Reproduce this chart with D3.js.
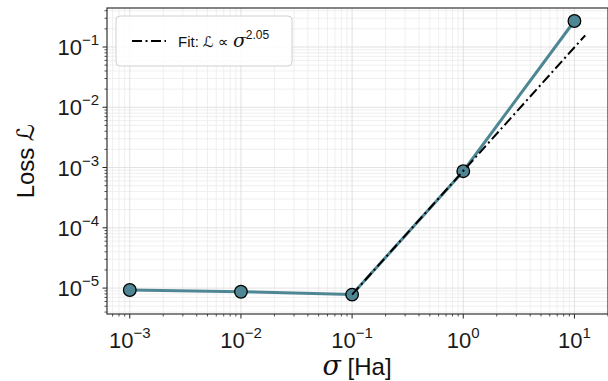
<!DOCTYPE html>
<html>
<head>
<meta charset="utf-8">
<script src="https://cdn.jsdelivr.net/npm/d3@7"></script>
<style>
  html, body { margin: 0; padding: 0; background: #fff; }
  svg { display: block; font-family: "Liberation Sans", "DejaVu Sans", sans-serif; }
</style>
</head>
<body>
<svg id="chart" width="608" height="381"></svg>
<script>
// data
const sigma = [0.001, 0.01, 0.1, 1, 10];
const loss = [9.3e-6, 8.7e-6, 7.8e-6, 8.7e-4, 0.27];

// fitted power law, drawn between its two end points
const fitSigma = [0.1, 12.5];
const fitLoss = [7.8e-6, 0.156];
const fitLabel = '2.05';

const xTickExp = [-3, -2, -1, 0, 1];
const yTickExp = [-5, -4, -3, -2, -1];

const svg = d3.select('#chart');
const margin = { top: 8, right: 0, bottom: 67, left: 107 };
const width = +svg.attr('width') - margin.left - margin.right;
const height = +svg.attr('height') - margin.top - margin.bottom;

const g = svg.append('g').attr('transform', `translate(${margin.left},${margin.top})`);

const x = d3.scaleLog()
  .domain([Math.pow(10, -3.205), Math.pow(10, 1.302)])
  .range([0, width]);

const y = d3.scaleLog()
  .domain([Math.pow(10, -5.43), Math.pow(10, -0.353)])
  .range([height, 0]);

// minor / major tick values
const minorX = [];
for (let e = -4; e <= 1; e++) for (let k = 2; k <= 9; k++) {
  const v = k * Math.pow(10, e);
  if (v >= x.domain()[0] && v <= x.domain()[1]) minorX.push(v);
}
const minorY = [];
for (let e = -6; e <= -1; e++) for (let k = 2; k <= 9; k++) {
  const v = k * Math.pow(10, e);
  if (v >= y.domain()[0] && v <= y.domain()[1]) minorY.push(v);
}
const majorX = xTickExp.map(e => Math.pow(10, e));
const majorY = yTickExp.map(e => Math.pow(10, e));

// grid
const grid = g.append('g');
grid.selectAll('.gxm').data(minorX).enter().append('line')
  .attr('x1', d => x(d)).attr('x2', d => x(d)).attr('y1', 0).attr('y2', height)
  .attr('stroke', '#ebebeb').attr('stroke-width', 0.8);
grid.selectAll('.gym').data(minorY).enter().append('line')
  .attr('y1', d => y(d)).attr('y2', d => y(d)).attr('x1', 0).attr('x2', width)
  .attr('stroke', '#ebebeb').attr('stroke-width', 0.8);
grid.selectAll('.gx').data(majorX).enter().append('line')
  .attr('x1', d => x(d)).attr('x2', d => x(d)).attr('y1', 0).attr('y2', height)
  .attr('stroke', '#dadada').attr('stroke-width', 0.8);
grid.selectAll('.gy').data(majorY).enter().append('line')
  .attr('y1', d => y(d)).attr('y2', d => y(d)).attr('x1', 0).attr('x2', width)
  .attr('stroke', '#dadada').attr('stroke-width', 0.8);

// data line + markers
const line = d3.line().x((d, i) => x(sigma[i])).y(d => y(d));
g.append('path')
  .datum(loss)
  .attr('d', line)
  .attr('fill', 'none')
  .attr('stroke', '#4f8694')
  .attr('stroke-width', 3);

g.selectAll('circle')
  .data(loss)
  .enter()
  .append('circle')
  .attr('cx', (d, i) => x(sigma[i]))
  .attr('cy', d => y(d))
  .attr('r', 6.3)
  .attr('fill', '#4f8694')
  .attr('stroke', '#000')
  .attr('stroke-width', 1.3);

// fit
const fitLine = d3.line().x((d, i) => x(fitSigma[i])).y(d => y(d));
g.append('path')
  .datum(fitLoss)
  .attr('d', fitLine)
  .attr('fill', 'none')
  .attr('stroke', '#000')
  .attr('stroke-width', 2)
  .attr('stroke-dasharray', '10,3.5,2,3.5');

// axes
const tickLabel = (sel, e) => {
  sel.append('tspan').text('10');
  sel.append('tspan').attr('dy', -10).attr('font-size', 15).text(e < 0 ? '\u2212' + (-e) : String(e));
};

const xAxis = g.append('g').attr('transform', `translate(0,${height})`);
xAxis.selectAll('.mn').data(minorX).enter().append('line')
  .attr('x1', d => x(d)).attr('x2', d => x(d)).attr('y1', 0).attr('y2', 2.5)
  .attr('stroke', '#222').attr('stroke-width', 0.8);
xAxis.selectAll('.mj').data(majorX).enter().append('line')
  .attr('x1', d => x(d)).attr('x2', d => x(d)).attr('y1', 0).attr('y2', 4.5)
  .attr('stroke', '#222').attr('stroke-width', 1);
xAxis.selectAll('text').data(xTickExp).enter().append('text')
  .attr('x', d => x(Math.pow(10, d)))
  .attr('y', 34)
  .attr('text-anchor', 'middle')
  .attr('font-size', 22)
  .attr('fill', '#1a1a1a')
  .each(function (d) { tickLabel(d3.select(this), d); });

const yAxis = g.append('g');
yAxis.selectAll('.mn').data(minorY).enter().append('line')
  .attr('y1', d => y(d)).attr('y2', d => y(d)).attr('x1', 0).attr('x2', -2.5)
  .attr('stroke', '#222').attr('stroke-width', 0.8);
yAxis.selectAll('.mj').data(majorY).enter().append('line')
  .attr('y1', d => y(d)).attr('y2', d => y(d)).attr('x1', 0).attr('x2', -4.5)
  .attr('stroke', '#222').attr('stroke-width', 1);
yAxis.selectAll('text').data(yTickExp).enter().append('text')
  .attr('x', -8)
  .attr('y', d => y(Math.pow(10, d)) + 8)
  .attr('text-anchor', 'end')
  .attr('font-size', 22)
  .attr('fill', '#1a1a1a')
  .each(function (d) { tickLabel(d3.select(this), d); });

// frame
g.append('rect')
  .attr('width', width).attr('height', height)
  .attr('fill', 'none').attr('stroke', '#333').attr('stroke-width', 1.2);

// axis titles
svg.append('text')
  .attr('x', 357).attr('y', 375)
  .attr('text-anchor', 'middle')
  .attr('font-size', 24)
  .attr('fill', '#111')
  .html('<tspan font-style="italic" font-family="DejaVu Serif" font-size="27">\u03c3</tspan> [Ha]');

svg.append('text')
  .attr('transform', `translate(34,${margin.top + height / 2}) rotate(-90)`)
  .attr('text-anchor', 'middle')
  .attr('font-size', 24)
  .attr('fill', '#111')
  .html('Loss <tspan font-family="DejaVu Sans" font-style="italic">\u2112</tspan>');

// legend
const lg = svg.append('g').attr('transform', 'translate(116,16)');
lg.append('rect')
  .attr('width', 176).attr('height', 50)
  .attr('rx', 4)
  .attr('fill', '#fff').attr('fill-opacity', 0.85)
  .attr('stroke', '#d0d0d0').attr('stroke-width', 1);
lg.append('line')
  .attr('x1', 16).attr('x2', 50).attr('y1', 25).attr('y2', 25)
  .attr('stroke', '#000').attr('stroke-width', 2)
  .attr('stroke-dasharray', '10,3.5,2,3.5');
lg.append('text')
  .attr('x', 62).attr('y', 31)
  .attr('font-size', 15)
  .attr('fill', '#111')
  .html(`Fit: <tspan font-style="italic" font-family="DejaVu Sans">\u2112</tspan> \u221d <tspan font-style="italic" font-family="DejaVu Serif" font-size="19">\u03c3</tspan><tspan dy="-8" font-size="12">${fitLabel}</tspan>`);
</script>
</body>
</html>
